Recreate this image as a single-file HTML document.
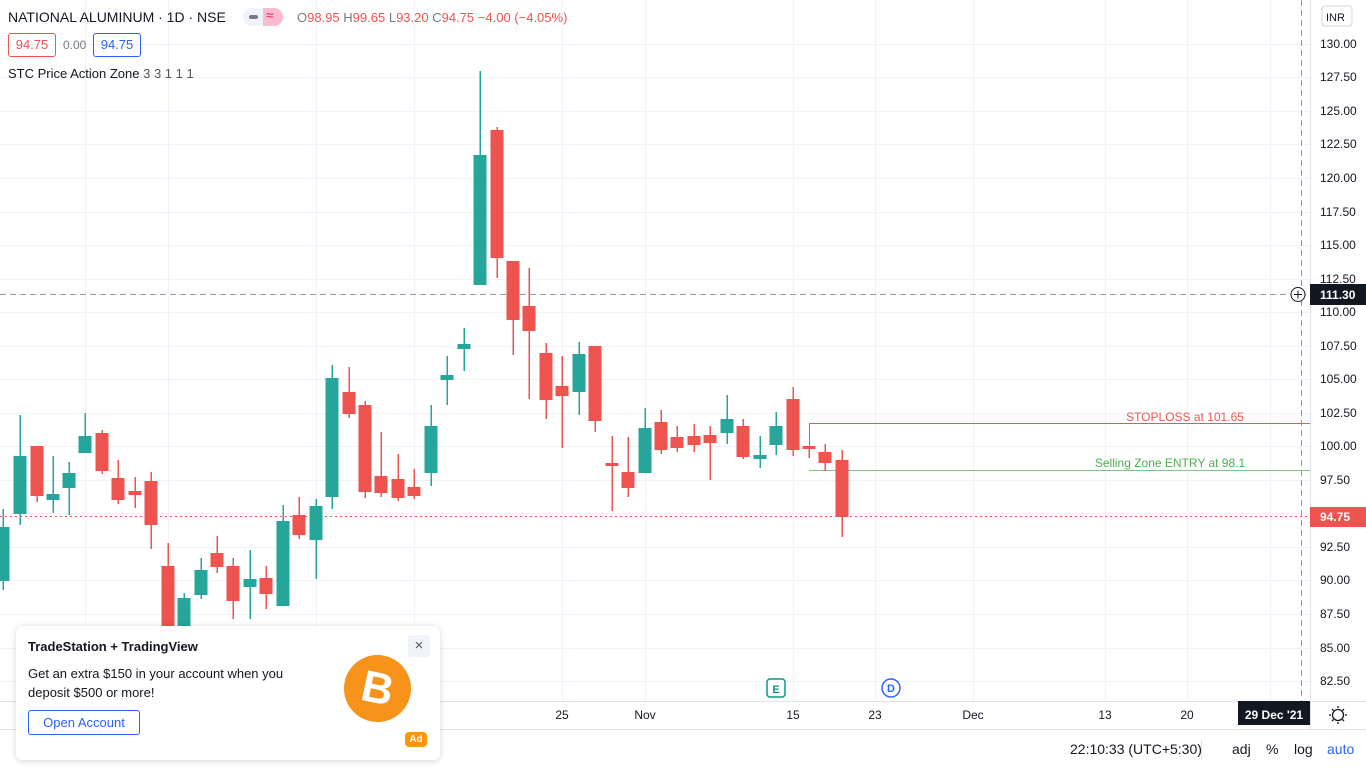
<!DOCTYPE html>
<html><head><meta charset="utf-8"><style>
body{margin:0;width:1366px;height:768px;overflow:hidden;background:#fff;font-family:"Liberation Sans",sans-serif;position:relative}
svg{position:absolute;left:0;top:0}
.t{position:absolute;white-space:nowrap;color:#131722}
</style></head><body>
<svg width="1366" height="768" viewBox="0 0 1366 768" font-family="Liberation Sans, sans-serif">
<g stroke="#f0f3fa" stroke-width="1">
<line x1="0" y1="44.5" x2="1310" y2="44.5"/><line x1="0" y1="77.5" x2="1310" y2="77.5"/><line x1="0" y1="111.5" x2="1310" y2="111.5"/><line x1="0" y1="144.5" x2="1310" y2="144.5"/><line x1="0" y1="178.5" x2="1310" y2="178.5"/><line x1="0" y1="212.5" x2="1310" y2="212.5"/><line x1="0" y1="245.5" x2="1310" y2="245.5"/><line x1="0" y1="279.5" x2="1310" y2="279.5"/><line x1="0" y1="312.5" x2="1310" y2="312.5"/><line x1="0" y1="346.5" x2="1310" y2="346.5"/><line x1="0" y1="379.5" x2="1310" y2="379.5"/><line x1="0" y1="413.5" x2="1310" y2="413.5"/><line x1="0" y1="446.5" x2="1310" y2="446.5"/><line x1="0" y1="480.5" x2="1310" y2="480.5"/><line x1="0" y1="513.5" x2="1310" y2="513.5"/><line x1="0" y1="547.5" x2="1310" y2="547.5"/><line x1="0" y1="580.5" x2="1310" y2="580.5"/><line x1="0" y1="614.5" x2="1310" y2="614.5"/><line x1="0" y1="648.5" x2="1310" y2="648.5"/><line x1="0" y1="681.5" x2="1310" y2="681.5"/>
<line x1="85.5" y1="0" x2="85.5" y2="701"/><line x1="168.5" y1="0" x2="168.5" y2="701"/><line x1="316.5" y1="0" x2="316.5" y2="701"/><line x1="414.5" y1="0" x2="414.5" y2="701"/><line x1="562.5" y1="0" x2="562.5" y2="701"/><line x1="645.5" y1="0" x2="645.5" y2="701"/><line x1="793.5" y1="0" x2="793.5" y2="701"/><line x1="875.5" y1="0" x2="875.5" y2="701"/><line x1="973.5" y1="0" x2="973.5" y2="701"/><line x1="1105.5" y1="0" x2="1105.5" y2="701"/><line x1="1187.5" y1="0" x2="1187.5" y2="701"/><line x1="1270.5" y1="0" x2="1270.5" y2="701"/>
</g>
<line x1="0" y1="294.5" x2="1310" y2="294.5" stroke="#9598a1" stroke-dasharray="6,4"/>
<line x1="1301.5" y1="0" x2="1301.5" y2="701" stroke="#9598a1" stroke-dasharray="6,4"/>
<line x1="0" y1="516.5" x2="1310" y2="516.5" stroke="#ef5350" stroke-dasharray="2,3"/>
<polyline points="809.5,446 809.5,423.5 1310,423.5" fill="none" stroke="#ef5350"/>
<line x1="809" y1="470.5" x2="1310" y2="470.5" stroke="#81c784" stroke-width="1"/>
<text x="1185" y="421" fill="#ef5350" font-size="12" text-anchor="middle">STOPLOSS at 101.65</text>
<text x="1170" y="467" fill="#4caf50" font-size="12" text-anchor="middle">Selling Zone ENTRY at 98.1</text>
<g id="c"></g>
<line x1="0" y1="701.5" x2="1366" y2="701.5" stroke="#e0e3eb"/>
<line x1="1310.5" y1="0" x2="1310.5" y2="729" stroke="#e0e3eb"/>
<line x1="0" y1="729.5" x2="1366" y2="729.5" stroke="#e0e3eb"/>
<g font-size="12" fill="#131722" text-anchor="start">
<text x="1320" y="48">130.00</text><text x="1320" y="81">127.50</text><text x="1320" y="115">125.00</text><text x="1320" y="148">122.50</text><text x="1320" y="182">120.00</text><text x="1320" y="216">117.50</text><text x="1320" y="249">115.00</text><text x="1320" y="283">112.50</text><text x="1320" y="316">110.00</text><text x="1320" y="350">107.50</text><text x="1320" y="383">105.00</text><text x="1320" y="417">102.50</text><text x="1320" y="450">100.00</text><text x="1320" y="484">97.50</text><text x="1320" y="551">92.50</text><text x="1320" y="584">90.00</text><text x="1320" y="618">87.50</text><text x="1320" y="652">85.00</text><text x="1320" y="685">82.50</text>
</g>
<rect x="1310" y="284" width="56" height="21" fill="#131722"/>
<text x="1320" y="299" fill="#fff" font-size="12" font-weight="bold">111.30</text>
<circle cx="1298" cy="294.5" r="7" fill="#fff" stroke="#131722"/>
<path d="M1294 294.5h8M1298 290.5v8" stroke="#131722"/>
<rect x="1310" y="507" width="56" height="20" fill="#ef5350"/>
<text x="1320" y="521" fill="#fff" font-size="12" font-weight="bold">94.75</text>
<rect x="1322" y="6" width="30" height="20" rx="3" fill="#fff" stroke="#d1d4dc"/>
<text x="1326" y="21" font-size="11" fill="#131722">INR</text>
<g font-size="12" fill="#131722" text-anchor="middle">
<text x="562" y="719">25</text><text x="645" y="719">Nov</text><text x="793" y="719">15</text><text x="875" y="719">23</text><text x="973" y="719">Dec</text><text x="1105" y="719">13</text><text x="1187" y="719">20</text>
</g>
<rect x="1238" y="701" width="72" height="24" fill="#131722"/>
<text x="1274" y="719" fill="#fff" font-size="12" font-weight="bold" text-anchor="middle">29 Dec '21</text>
<circle cx="1338" cy="715" r="5.5" fill="none" stroke="#131722" stroke-width="1.3"/>
<g stroke="#131722" stroke-width="1.3"><path d="M1338 706v2M1338 722v2M1329 715h2M1345 715h2M1332 709l1.5 1.5M1342.5 719.5l1.5 1.5M1344 709l-1.5 1.5M1332 721l1.5-1.5"/></g>
<rect x="767" y="679" width="18" height="18" rx="3" fill="#fff" stroke="#089981" stroke-width="1.5"/>
<text x="776" y="693" font-size="11" fill="#089981" text-anchor="middle" font-weight="bold">E</text>
<circle cx="891" cy="688" r="9" fill="#fff" stroke="#2962ff" stroke-width="1.5"/>
<text x="891" y="692" font-size="11" fill="#2962ff" text-anchor="middle" font-weight="bold">D</text>
<line x1="1201.5" y1="740" x2="1201.5" y2="760" stroke="#e0e3eb"/>
<text x="1070" y="754" font-size="14" fill="#131722">22:10:33 (UTC+5:30)</text>
<text x="1232" y="754" font-size="14" fill="#131722">adj</text>
<text x="1266" y="754" font-size="14" fill="#131722">%</text>
<text x="1294" y="754" font-size="14" fill="#131722">log</text>
<text x="1327" y="754" font-size="14" fill="#2962ff">auto</text>
</svg>
<div class="t" style="left:8px;top:9px;font-size:14px">NATIONAL ALUMINUM · 1D · NSE</div>
<div style="position:absolute;left:243px;top:8px;width:40px;height:18px;border-radius:9px;background:#f0f3fa;overflow:hidden"><div style="position:absolute;left:20px;top:0;width:20px;height:18px;background:#f8bbd0"></div><div style="position:absolute;left:6px;top:7px;width:9px;height:4px;border-radius:2px;background:#787b86"></div><div style="position:absolute;left:23px;top:-1px;font-size:14px;color:#e91e63">≈</div></div>
<div class="t" style="left:297px;top:10px;font-size:13px;color:#787b86">O<span style="color:#ef5350">98.95</span> H<span style="color:#ef5350">99.65</span> L<span style="color:#ef5350">93.20</span> C<span style="color:#ef5350">94.75</span> <span style="color:#ef5350">−4.00 (−4.05%)</span></div>
<div class="t" style="left:8px;top:33px;width:46px;height:22px;border:1px solid #ef5350;border-radius:3px;color:#ef5350;font-size:13px;line-height:22px;text-align:center">94.75</div>
<div class="t" style="left:63px;top:38px;font-size:12px;color:#787b86">0.00</div>
<div class="t" style="left:93px;top:33px;width:46px;height:22px;border:1px solid #2962ff;border-radius:3px;color:#2962ff;font-size:13px;line-height:22px;text-align:center">94.75</div>
<div class="t" style="left:8px;top:66px;font-size:13px">STC Price Action Zone <span style="color:#555">3 3 1 1 1</span></div>
<div style="position:absolute;left:16px;top:626px;width:424px;height:134px;background:#fff;border-radius:6px;box-shadow:0 1px 6px rgba(0,0,0,.18)">
<div class="t" style="left:12px;top:13px;font-size:13px;font-weight:bold">TradeStation + TradingView</div>
<div class="t" style="left:12px;top:38px;font-size:13px;line-height:19px;white-space:normal;width:280px">Get an extra $150 in your account when you deposit $500 or more!</div>
<div class="t" style="left:12px;top:84px;width:110px;height:23px;border:1px solid #2962ff;border-radius:3px;color:#2962ff;font-size:13px;line-height:23px;text-align:center">Open Account</div>
<div style="position:absolute;left:392px;top:9px;width:22px;height:22px;background:#f0f3fa;border-radius:3px;color:#555;font-size:15px;text-align:center;line-height:22px">×</div>
<div style="position:absolute;left:328px;top:29px;width:67px;height:67px;border-radius:50%;background:#f7931a;color:#fff;font-size:44px;font-weight:bold;text-align:center;line-height:67px;transform:rotate(12deg)">B</div>
<div style="position:absolute;left:389px;top:106px;width:22px;height:15px;border-radius:4px;background:#ff9800;color:#fff;font-size:10px;font-weight:bold;text-align:center;line-height:15px">Ad</div>
</div>
<script>
var d=[[3,'g',509,527,581,590],[20,'g',415,456,514,525],[37,'r',446,446,496,502],[53,'g',456,494,500,513],[69,'g',462,473,488,515],[85,'g',413,436,453,453],[102,'r',430,433,471,474],[118,'r',460,478,500,504],[135,'r',477,491,495,508],[151,'r',472,481,525,549],[168,'r',543,566,650,665],[184,'g',593,598,640,650],[201,'g',558,570,595,599],[217,'r',536,553,567,573],[233,'r',558,566,601,619],[250,'g',550,579,587,619],[266,'r',566,578,594,609],[283,'g',505,521,606,606],[299,'r',497,515,535,539],[316,'g',499,506,540,579],[332,'g',365,378,497,509],[349,'r',367,392,414,418],[365,'r',401,405,492,498],[381,'r',432,476,493,497],[398,'r',454,479,498,501],[414,'r',469,487,496,499],[431,'g',405,426,473,486],[447,'g',356,375,380,405],[464,'g',328,344,349,371],[480,'g',71,155,285,285],[497,'r',127,130,258,278],[513,'r',261,261,320,355],[529,'r',268,306,331,399],[546,'r',343,353,400,419],[562,'r',356,386,396,448],[579,'g',342,354,392,415],[595,'r',346,346,421,432],[612,'r',436,463,466,511],[628,'r',437,472,488,497],[645,'g',408,428,473,473],[661,'r',410,422,450,454],[677,'r',426,437,448,452],[694,'r',424,436,445,452],[710,'r',426,435,443,480],[727,'g',395,419,433,444],[743,'r',419,426,457,459],[760,'g',436,455,459,468],[776,'g',412,426,445,455],[793,'r',387,399,450,456],[809,'r',446,446,449,458],[825,'r',444,452,463,471],[842,'r',450,460,517,537]];
var s='';d.forEach(function(c){var col=c[1]=='g'?'#26a69a':'#ef5350';s+='<rect x="'+(c[0]-0.5)+'" y="'+c[2]+'" width="1.5" height="'+(c[5]-c[2])+'" fill="'+col+'"/><rect x="'+(c[0]-6.5)+'" y="'+c[3]+'" width="13" height="'+Math.max(2,c[4]-c[3])+'" fill="'+col+'"/>';});
document.getElementById('c').innerHTML=s;
</script>
</body></html>
